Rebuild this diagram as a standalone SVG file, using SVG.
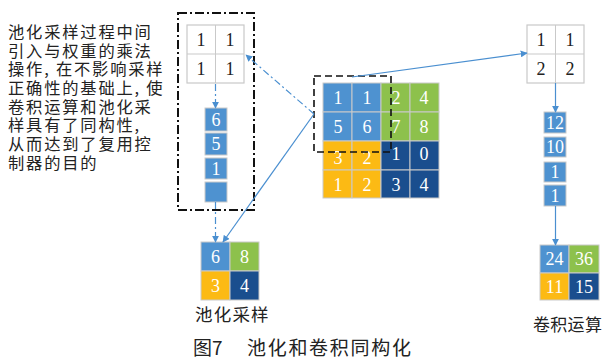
<svg xmlns="http://www.w3.org/2000/svg" width="610" height="362" viewBox="0 0 610 362">
<style>
.cjk{font-family:"Noto Sans CJK SC","Noto Sans CJK JP",sans-serif;fill:#222}
.num{font-family:"Liberation Serif",serif;font-size:18px;text-anchor:middle}
.w{fill:#fff}
.k{fill:#222}
.cell{stroke:#c9c9c9;stroke-width:1}
.b{fill:#4E92D0}.g{fill:#8DC14C}.y{fill:#FCBA14}.d{fill:#1A4E8E}
.wh{fill:#fff;stroke:#c9c9c9;stroke-width:1.2}
.con{stroke:#4A8FD0;stroke-width:1.2;fill:none}
.dd{stroke-dasharray:7 3 2 3}
</style>
<defs>
<marker id="ah" viewBox="0 0 10 10" refX="9" refY="5" markerWidth="7" markerHeight="7" orient="auto" markerUnits="userSpaceOnUse"><path d="M0,0 L10,5 L0,10 z" fill="#4A8FD0"/></marker>
</defs>
<rect width="610" height="362" fill="#fff"/>
<g id="description" class="cjk" font-size="16.3" letter-spacing="1.8">
<text x="8" y="38">池化采样过程中间</text>
<text x="8" y="57">引入与权重的乘法</text>
<text x="8" y="75">操作, 在不影响采样</text>
<text x="8" y="94">正确性的基础上, 使</text>
<text x="8" y="113">卷积运算和池化采</text>
<text x="8" y="131">样具有了同构性,</text>
<text x="8" y="150">从而达到了复用控</text>
<text x="8" y="169">制器的目的</text>
</g>
<g id="pool-box">
<rect x="178" y="13" width="76" height="197" fill="none" stroke="#111" stroke-width="2" stroke-dasharray="9 3 2 3"/>
</g>
<g id="pool-kernel">
<rect x="187" y="25" width="57" height="58" class="wh"/>
<line x1="215.5" y1="25" x2="215.5" y2="83" stroke="#c9c9c9"/>
<line x1="187" y1="54" x2="244" y2="54" stroke="#c9c9c9"/>
<text class="num k" x="201" y="46">1</text><text class="num k" x="230" y="46">1</text>
<text class="num k" x="201" y="75">1</text><text class="num k" x="230" y="75">1</text>
</g>
<g id="pool-column">
<rect x="205" y="108" width="22" height="23" class="b cell"/>
<rect x="205" y="133" width="22" height="22" class="b cell"/>
<rect x="205" y="158" width="22" height="21" class="b cell"/>
<rect x="205" y="182" width="22" height="20" class="b cell"/>
<text class="num w" x="216" y="126">6</text>
<text class="num w" x="216" y="150">5</text>
<text class="num w" x="216" y="175">1</text>
</g>
<g id="input-grid">
<rect x="323" y="83" width="29" height="29" class="b cell"/><rect x="352" y="83" width="29" height="29" class="b cell"/>
<rect x="381" y="83" width="29" height="29" class="g cell"/><rect x="410" y="83" width="29" height="29" class="g cell"/>
<rect x="323" y="112" width="29" height="29" class="b cell"/><rect x="352" y="112" width="29" height="29" class="b cell"/>
<rect x="381" y="112" width="29" height="29" class="g cell"/><rect x="410" y="112" width="29" height="29" class="g cell"/>
<rect x="323" y="141" width="29" height="29" class="y cell"/><rect x="352" y="141" width="29" height="29" class="y cell"/>
<rect x="381" y="141" width="29" height="29" class="d cell"/><rect x="410" y="141" width="29" height="29" class="d cell"/>
<rect x="323" y="170" width="29" height="28" class="y cell"/><rect x="352" y="170" width="29" height="28" class="y cell"/>
<rect x="381" y="170" width="29" height="28" class="d cell"/><rect x="410" y="170" width="29" height="28" class="d cell"/>
<text class="num w" x="338" y="104">1</text><text class="num w" x="367" y="104">1</text><text class="num w" x="396" y="104">2</text><text class="num w" x="424" y="104">4</text>
<text class="num w" x="338" y="133">5</text><text class="num w" x="367" y="133">6</text><text class="num w" x="396" y="133">7</text><text class="num w" x="424" y="133">8</text>
<text class="num w" x="338" y="164">3</text><text class="num w" x="367" y="164">2</text><text class="num w" x="396" y="160">1</text><text class="num w" x="424" y="160">0</text>
<text class="num w" x="338" y="191">1</text><text class="num w" x="367" y="191">2</text><text class="num w" x="396" y="191">3</text><text class="num w" x="424" y="191">4</text>
</g>
<g id="window">
<rect x="314" y="76" width="77" height="76" fill="none" stroke="#111" stroke-width="1.6" stroke-dasharray="7 4"/>
</g>
<g id="conv-kernel">
<rect x="527" y="25" width="57" height="58" class="wh"/>
<line x1="555.5" y1="25" x2="555.5" y2="83" stroke="#c9c9c9"/>
<line x1="527" y1="54" x2="584" y2="54" stroke="#c9c9c9"/>
<text class="num k" x="541" y="46">1</text><text class="num k" x="570" y="46">1</text>
<text class="num k" x="541" y="75">2</text><text class="num k" x="570" y="75">2</text>
</g>
<g id="conv-column">
<rect x="544" y="112" width="22" height="21" class="b cell"/>
<rect x="544" y="137" width="22" height="20" class="b cell"/>
<rect x="544" y="162" width="22" height="20" class="b cell"/>
<rect x="544" y="185" width="22" height="21" class="b cell"/>
<text class="num w" x="555" y="129">12</text>
<text class="num w" x="555" y="153">10</text>
<text class="num w" x="555" y="178">1</text>
<text class="num w" x="555" y="202">1</text>
</g>
<g id="pool-result">
<rect x="201" y="242" width="29" height="29" class="b cell"/><rect x="230" y="242" width="29" height="29" class="g cell"/>
<rect x="201" y="271" width="29" height="29" class="y cell"/><rect x="230" y="271" width="29" height="29" class="d cell"/>
<text class="num w" x="215.5" y="263">6</text><text class="num w" x="244.5" y="263">8</text>
<text class="num w" x="215.5" y="292">3</text><text class="num w" x="244.5" y="292">4</text>
<text class="cjk" font-size="17.5" letter-spacing="1.2" x="195" y="321">池化采样</text>
</g>
<g id="conv-result">
<rect x="540" y="245" width="29" height="28" class="b cell"/><rect x="569" y="245" width="30" height="28" class="g cell"/>
<rect x="540" y="273" width="29" height="27" class="y cell"/><rect x="569" y="273" width="30" height="27" class="d cell"/>
<text class="num w" x="554.5" y="265">24</text><text class="num w" x="584" y="265">36</text>
<text class="num w" x="554.5" y="293">11</text><text class="num w" x="584" y="293">15</text>
<text class="cjk" font-size="17" letter-spacing="0.3" x="533" y="331">卷积运算</text>
</g>
<g id="connectors">
<line class="con dd" x1="215.5" y1="84" x2="215.5" y2="108" marker-end="url(#ah)"/>
<line class="con dd" x1="215.5" y1="202" x2="215.5" y2="242" marker-end="url(#ah)"/>
<line class="con dd" x1="314" y1="114" x2="246" y2="55" marker-end="url(#ah)"/>
<line class="con" x1="314" y1="114" x2="223" y2="242" marker-end="url(#ah)"/>
<line class="con" x1="352" y1="77" x2="527" y2="53" marker-end="url(#ah)"/>
<line class="con" x1="555.5" y1="83" x2="555.5" y2="112" marker-end="url(#ah)"/>
<line class="con" x1="555.5" y1="206" x2="555.5" y2="245" marker-end="url(#ah)"/>
</g>
<g id="caption" class="cjk" font-size="19">
<text x="193" y="355">图7</text>
<text x="247" y="355" letter-spacing="1.7">池化和卷积同构化</text>
</g>
</svg>
